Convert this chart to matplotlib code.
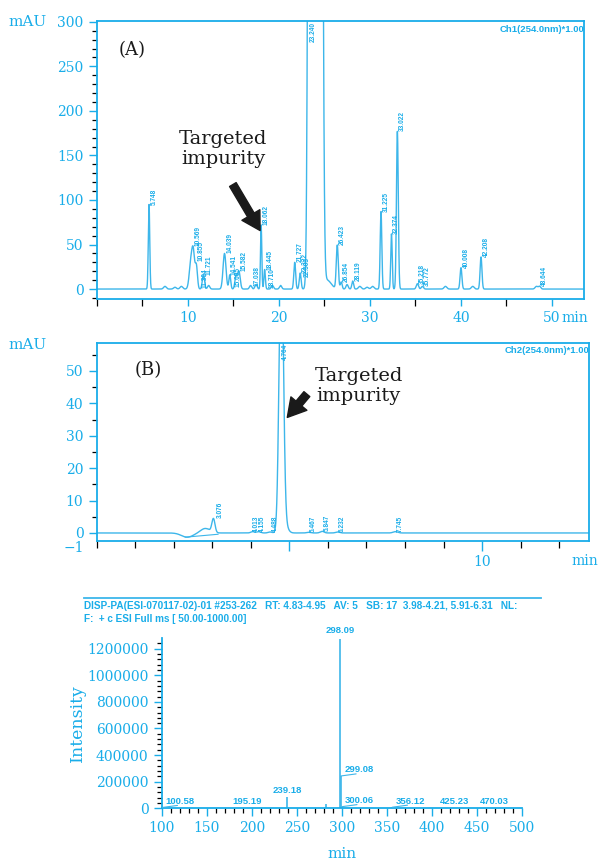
import numpy as np
import matplotlib
matplotlib.use("Agg")
import matplotlib.pyplot as plt
from matplotlib.ticker import MultipleLocator, FixedLocator

CYAN = "#19ADE9"
LINE = "#3DB6EA"

# ---------------- Panel A data (peak table) -------------
a_rt     = [5.748, 7.5, 8.6, 9.3, 10.35, 10.62, 10.95, 11.72, 12.3, 14.039, 14.62, 15.3, 15.62,
            16.9, 17.5, 18.062, 18.445, 19.3, 20.2, 21.75, 22.35, 23.45, 24.0, 24.55, 25.3,
            26.423, 26.854, 27.5, 28.119, 28.9, 29.7, 30.3, 31.225, 32.374, 33.022, 35.218,
            35.772, 38.3, 40.008, 41.3, 42.208, 48.3, 48.644]
a_height = [95, 3, 2, 3, 30, 36, 25, 16, 4, 40, 16, 15, 20,
            4, 5, 72, 22, 4, 4, 30, 18, 1500, 1500, 1500, 10,
            49, 8, 5, 9, 3, 2, 3, 87, 62, 177, 6,
            3, 3, 24, 3, 36, 3, 3]
a_sigma  = [0.08, 0.15, 0.15, 0.15, 0.18, 0.15, 0.12, 0.12, 0.12, 0.16, 0.1, 0.12, 0.14,
            0.12, 0.12, 0.07, 0.08, 0.12, 0.12, 0.1, 0.1, 0.18, 0.2, 0.2, 0.45,
            0.11, 0.1, 0.12, 0.1, 0.15, 0.15, 0.15, 0.09, 0.08, 0.1, 0.12,
            0.12, 0.15, 0.1, 0.15, 0.1, 0.15, 0.12]
a_labels = ["5.748", "10.569", "10.855", "11.304", "11.721", "14.039", "14.541", "15.005",
            "15.582", "17.038", "18.062", "18.445", "18.710", "21.727", "22.322", "22.503",
            "23.240", "26.423", "26.854", "28.119", "31.225", "32.374", "33.022", "35.218",
            "35.772", "40.008", "42.208", "48.644"]

# ---------------- Panel B data -------------
b_rt     = [2.35, 2.82, 3.03, 4.05, 4.2, 4.5, 4.79, 4.9, 5.5, 5.85, 6.25, 7.75]
b_height = [-1.3, 1.4, 4.2, 0.4, 0.4, 0.3, 90, 2, 0.2, 0.5, 0.3, 0.4]
b_sigma  = [0.15, 0.12, 0.04, 0.05, 0.05, 0.05, 0.055, 0.07, 0.05, 0.05, 0.05, 0.06]
b_labels = ["3.076", "4.013", "4.155", "4.488", "4.764", "5.467", "5.847", "6.232", "7.745"]
b_baseline_t = [2.3, 3.15]
b_baseline_y = [-1.3, -0.4]

# ---------------- Panel C data (mass spectrum) -------------
ms_mz  = [100.58, 195.19, 239.18, 282.0, 298.09, 299.08, 300.06, 356.12, 425.23, 470.03]
ms_int = [6000, 5000, 87000, 30000, 1275000, 243000, 12000, 8000, 4000, 4000]
ms_lab = ["100.58", "195.19", "239.18", "", "298.09", "299.08", "300.06", "356.12", "425.23", "470.03"]
ms_lab_side = ["right", "center", "center", "", "top", "right", "right", "right", "center", "center"]

header1 = "DISP-PA(ESI-070117-02)-01 #253-262   RT: 4.83-4.95   AV: 5   SB: 17  3.98-4.21, 5.91-6.31   NL:"
header2 = "F:  + c ESI Full ms [ 50.00-1000.00]"


def trace(t, rts, hs, ss):
    y = np.zeros_like(t)
    for r, h, s in zip(rts, hs, ss):
        y += h * np.exp(-0.5 * ((t - r) / s) ** 2)
    return y


plt.rcParams["font.family"] = ["DejaVu Serif"]
SANS = ["Liberation Sans", "DejaVu Sans"]

fig = plt.figure(figsize=(6.02, 8.59), dpi=100)

def style_chrom(ax):
    for s in ax.spines.values():
        s.set_color(CYAN)
        s.set_linewidth(1.3)
    ax.tick_params(colors=CYAN, labelcolor=CYAN, labelsize=10, width=1.0)
    ax.tick_params(which="major", length=6)
    ax.tick_params(which="minor", length=3.5, width=0.9)

def label_peaks(ax, t, y, labels, top, dx):
    for lab in labels:
        r = float(lab)
        m = (t > r - 0.08) & (t < r + 0.08)
        v = y[m].max()
        if v >= top:
            ax.annotate(lab, (r, top), xytext=(dx, -1), textcoords="offset points",
                        rotation=90, ha="center", va="top", fontsize=4.7,
                        color=CYAN, family=SANS, fontweight="bold")
        else:
            ax.annotate(lab, (r, v), xytext=(dx, 0), textcoords="offset points",
                        rotation=90, ha="center", va="bottom", fontsize=4.7,
                        color=CYAN, family=SANS, fontweight="bold")

ARROW = "simple,head_width=1.5,head_length=1.3,tail_width=0.55"

# ---- Panel A
axA = fig.add_axes([0.1606, 0.6519, 0.81, 0.3237])
tA = np.linspace(0, 53.55, 4000)
yA = trace(tA, a_rt, a_height, a_sigma)
axA.plot(tA, yA, color=LINE, lw=1.0)
axA.set_xlim(0, 53.55)
axA.set_ylim(-11.2, 301)
axA.xaxis.set_major_locator(FixedLocator([10, 20, 30, 40, 50]))
axA.xaxis.set_minor_locator(FixedLocator([0, 5, 15, 25, 35, 45]))
axA.yaxis.set_major_locator(MultipleLocator(50))
axA.yaxis.set_minor_locator(MultipleLocator(10))
style_chrom(axA)
axA.tick_params(axis="x", which="both", length=5)
label_peaks(axA, tA, yA, a_labels, 301, 3.8)
axA.text(1.0, 0.985, "Ch1(254.0nm)*1.00", transform=axA.transAxes, ha="right", va="top",
         fontsize=6.8, color=CYAN, family=SANS, fontweight="bold")
axA.text(0.045, 0.895, "(A)", transform=axA.transAxes, fontsize=13, color="#1a1a1a", ha="left", va="center")
axA.annotate("", xy=(18.1, 63), xytext=(14.8, 120),
             arrowprops=dict(arrowstyle=ARROW, color="#1a1a1a"))
axA.text(13.9, 157, "Targeted\nimpurity", ha="center", va="center", fontsize=14,
         color="#1a1a1a", linespacing=1.15)
fig.text(28 / 602, 1 - 22 / 859, "mAU", color=CYAN, fontsize=11, ha="center", va="center")
fig.text(575 / 602, 1 - 318 / 859, "min", color=CYAN, fontsize=10, ha="center", va="center")

# ---- Panel B
axB = fig.add_axes([0.1605, 0.3705, 0.8184, 0.2305])
tB = np.linspace(0, 12.78, 4000)
yB = trace(tB, b_rt, b_height, b_sigma)
axB.plot(tB, yB, color=LINE, lw=1.0)
axB.plot(b_baseline_t, b_baseline_y, color=LINE, lw=0.8)
axB.set_xlim(0, 12.78)
axB.set_ylim(-2.4, 58.7)
axB.xaxis.set_major_locator(FixedLocator([5, 10]))
axB.xaxis.set_minor_locator(FixedLocator([0, 1, 2, 3, 4, 6, 7, 8, 9, 11, 12]))
axB.yaxis.set_major_locator(MultipleLocator(10))
axB.yaxis.set_minor_locator(MultipleLocator(5))
style_chrom(axB)
axB.tick_params(axis="x", which="major", length=7)
axB.tick_params(axis="x", which="minor", length=5)
axB.set_xticklabels(["", "10"])
label_peaks(axB, tB, yB, b_labels, 58.7, 4.0)
axB.text(1.0, 0.985, "Ch2(254.0nm)*1.00", transform=axB.transAxes, ha="right", va="top",
         fontsize=6.8, color=CYAN, family=SANS, fontweight="bold")
axB.text(0.078, 0.86, "(B)", transform=axB.transAxes, fontsize=13, color="#1a1a1a", ha="left", va="center")
axB.annotate("", xy=(4.9, 35), xytext=(5.5, 43.5),
             arrowprops=dict(arrowstyle=ARROW, color="#1a1a1a"))
axB.text(6.8, 45.3, "Targeted\nimpurity", ha="center", va="center", fontsize=14,
         color="#1a1a1a", linespacing=1.15)
fig.text(28 / 602, 1 - 345 / 859, "mAU", color=CYAN, fontsize=11, ha="center", va="center")
fig.text(84 / 602, 1 - 548 / 859, "\u22121", color=CYAN, fontsize=10, ha="right", va="center")
fig.text(585 / 602, 1 - 561 / 859, "min", color=CYAN, fontsize=10, ha="center", va="center")

# ---- Panel C
axC = fig.add_axes([161.7 / 602, 1 - 808.3 / 859, 360 / 602, 170 / 859])
axC.vlines(ms_mz, 0, ms_int, color=LINE, lw=1.2)
axC.set_xlim(100, 500)
axC.set_ylim(0, 1278000)
axC.spines["top"].set_visible(False)
axC.spines["right"].set_visible(False)
for s in ("left", "bottom"):
    axC.spines[s].set_color(CYAN)
    axC.spines[s].set_linewidth(1.3)
axC.xaxis.set_major_locator(MultipleLocator(50))
axC.xaxis.set_minor_locator(MultipleLocator(10))
axC.yaxis.set_major_locator(MultipleLocator(200000))
axC.yaxis.set_minor_locator(MultipleLocator(40000))
axC.yaxis.set_major_formatter(matplotlib.ticker.FuncFormatter(lambda v, p: f"{int(v)}"))
axC.tick_params(colors=CYAN, labelcolor=CYAN, labelsize=10, width=1.0)
axC.tick_params(which="major", length=6)
axC.tick_params(which="minor", length=3.5, width=0.9)
axC.set_ylabel("Intensity", color=CYAN, fontsize=12.5, labelpad=1)
axC.set_xlabel("min", color=CYAN, fontsize=11, labelpad=8)
for mz, it, lab, side in zip(ms_mz, ms_int, ms_lab, ms_lab_side):
    if not lab:
        continue
    kw = dict(textcoords="offset points", fontsize=6.8, color=CYAN, family=SANS,
              fontweight="bold", annotation_clip=False)
    if side == "top":
        axC.annotate(lab, (mz, it), xytext=(0, 3), ha="center", va="bottom", **kw)
    elif side == "right":
        axC.annotate(lab, (mz, it), xytext=(2.5, 1.2), ha="left", va="bottom", **kw)
        # short leader line under the label
        axC.annotate("", (mz, it), xytext=(11, 1.5), textcoords="offset points",
                     arrowprops=dict(arrowstyle="-", color=LINE, lw=0.8,
                                     shrinkA=0, shrinkB=0))
    else:
        axC.annotate(lab, (mz, it), xytext=(0, 1), ha="center", va="bottom", **kw)

fig.add_artist(matplotlib.lines.Line2D([84 / 602, 541 / 602], [1 - 597.5 / 859] * 2,
                                       color=LINE, lw=1.3))
fig.text(84 / 602, 1 - 606 / 859, header1, fontsize=7.2, color=CYAN, family=SANS,
         fontweight="bold", ha="left", va="center")
fig.text(84 / 602, 1 - 619 / 859, header2, fontsize=7.2, color=CYAN, family=SANS,
         fontweight="bold", ha="left", va="center")

fig.savefig("out.png", dpi=100)
